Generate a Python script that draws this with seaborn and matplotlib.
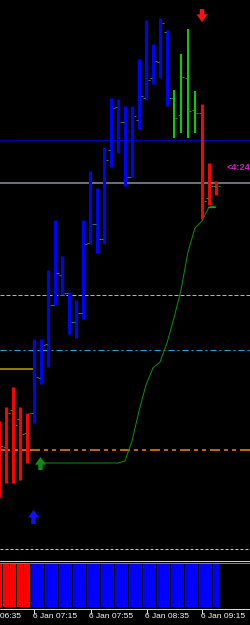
import matplotlib
matplotlib.use("Agg")
import matplotlib.pyplot as plt
from matplotlib.lines import Line2D
import numpy as np
import pandas as pd
import seaborn as sns

# ---------------- data (screen-price units, larger = lower on chart) -------------
bar_idx = list(range(32))
highs = [421, 407, 387, 407, 413, 339, 339, 270, 220, 256, 292, 300, 220, 171, 188, 147,
         98, 99, 106, 106, 59, 20, 44, 18, 30, 90, 54, 29, 91, 104, 163, 181]
lows = [497, 483, 483, 480, 463, 423, 384, 367, 305, 295, 334, 338, 319, 244, 253, 244,
        167, 153, 186, 177, 129, 100, 84, 78, 106, 138, 133, 138, 133, 219, 205, 195]
opens = [430, 446, 409, 418, 432, 412, 377, 343, 304, 274, 292, 321, 312, 242, 223, 238,
         149, 106, 121, 176, 119, 97, 77, 61, 31, 97, 114, 77, 109, 112, 197, 185]
closes = [445, 412, 424, 433, 412, 376, 344, 304, 272, 292, 321, 312, 243, 223, 238, 159,
          107, 121, 176, 115, 95, 79, 60, 22, 97, 117, 76, 110, 112, 200, 185, 185]
bar_state = ["red"] * 5 + ["blue"] * 20 + ["green"] * 4 + ["red"] * 3
hist_state = ["red"] * 5 + ["blue"] * 27

ma_idx = [6, 7, 8, 9, 10, 11, 12, 13, 14, 15, 16, 17, 18, 19, 20, 21, 22, 23, 24, 25,
          26, 27, 28, 29, 30, 31]
ma_vals = [463, 463, 463, 463, 463, 463, 463, 463, 463, 463, 463, 463, 461, 441, 411, 385,
           368, 362, 343, 318, 290, 252, 228, 221, 207, 206]

tick_idx = [-3, 5, 13, 21, 29]
tick_labels = ["6 Jan 06:35", "6 Jan 07:15", "6 Jan 07:55", "6 Jan 08:35", "6 Jan 09:15"]

hlines = {  # level: (color, width px, dash pattern, half-pixel offset)
    139: ("#0000b4", 1.0, None, 0.5),
    183: ("#6b7078", 2.0, None, 0.0),
    295: ("#b4b4b4", 1.0, (4, 2), 0.0),
    350: ("#1fa3ee", 1.0, (6, 3, 2, 3), 0.0),
    450: ("#c06010", 2.0, (5, 2, 2, 2, 2, 2), 0.0),
    549: ("#c8c8c8", 1.0, (3, 2), 0.0),
}
price_label = "<4:24"

# ---------------- figure -------------
W, H = 251, 625
DPI = 100
PT = 72.0 / DPI  # points per pixel

sns.set_style("dark", {"axes.facecolor": "black", "figure.facecolor": "black"})
plt.rcParams["font.family"] = ["Liberation Sans", "DejaVu Sans"]

fig = plt.figure(figsize=(W / DPI, H / DPI), dpi=DPI, facecolor="black")

def px2x(px):
    return (px + 1) / 7.0

xlim = (px2x(0), px2x(W))

ax = fig.add_axes([0, 1 - 559 / H, 1, 559 / H])
ax.set_facecolor("black")
ax.set_xlim(*xlim)
ax.set_ylim(559, 0)
ax.axis("off")

for lvl, (col, wpx, dash, off) in hlines.items():
    ln = ax.axhline(lvl + off, color=col, lw=wpx * PT, zorder=1)
    if dash is not None:
        ln.set_dashes(dash)

# short yellow line
ax.plot([px2x(0), px2x(34)], [369, 369], color="#b8a800", lw=1.5 * PT, zorder=1)

# OHLC bars
colmap = {"red": "#ff0000", "blue": "#0000ff", "green": "#00d000"}
widthmap = {"red": 3.0, "blue": 3.0, "green": 2.0}
for i in bar_idx:
    st = bar_state[i]
    ax.vlines(i, highs[i], lows[i], color=colmap[st], lw=widthmap[st] * PT, zorder=3)
    hw = widthmap[st] / 2.0 / 7.0
    ax.plot([i - hw - 2 / 7, i - hw], [opens[i] + 0.5, opens[i] + 0.5], color="#1f9a1f",
            lw=1 * PT, zorder=4, solid_capstyle="butt")
    ax.plot([i + hw, i + hw + 2 / 7], [closes[i] + 0.5, closes[i] + 0.5], color="#1f9a1f",
            lw=1 * PT, zorder=4, solid_capstyle="butt")

# moving average line
ma_df = pd.DataFrame({"idx": ma_idx, "ma": ma_vals})
sns.lineplot(data=ma_df, x="idx", y="ma", ax=ax, color="#0c900c", lw=1.0 * PT, zorder=2)
ax.plot([29.86, 30.9], [206.5, 206.5], color="#10a810", lw=1.2 * PT, zorder=4)
ax.set_xlim(*xlim)
ax.set_ylim(559, 0)
ax.axis("off")

# arrows
def arrow(x, y_tail, y_tip, col):
    ax.annotate("", xy=(x, y_tip), xytext=(x, y_tail),
                arrowprops=dict(arrowstyle="simple,head_length=0.55,head_width=0.8,tail_width=0.32",
                                color=col, lw=0, mutation_scale=10, shrinkA=0, shrinkB=0),
                zorder=5)

arrow(29.0, 9, 22, "#ff1010")
arrow(5.93, 470, 457, "#108a10")
arrow(4.93, 524, 510, "#1010ff")

ax.text(px2x(227), 167, price_label, color="#cc22cc", fontsize=6.6, ha="left",
        va="center", fontweight="bold", zorder=6)

# ---------------- sub window -------------
ax2 = fig.add_axes([0, 1 - 608 / H, 1, 46 / H])
ax2.set_facecolor("black")
hist_df = pd.DataFrame({"idx": bar_idx, "v": [1.0] * len(bar_idx), "state": hist_state})
sns.barplot(data=hist_df, x="idx", y="v", hue="state",
            palette={"red": "#ff0000", "blue": "#0000ff"}, native_scale=True,
            width=6 / 7, dodge=False, legend=False, ax=ax2, linewidth=0, saturation=1)
ax2.set_xlim(*xlim)
ax2.set_ylim(-0.02, 1.03)
ax2.axis("off")

def hline_fig(ypx, col, wpx=1.0):
    y = 1 - ypx / H
    fig.add_artist(Line2D([0, 1], [y, y], color=col, lw=wpx * PT, transform=fig.transFigure))

hline_fig(560.5, "#d0d0d0")
hline_fig(562.5, "#808080")
hline_fig(608.5, "#d8d8d8")

for ti, lab in zip(tick_idx, tick_labels):
    xpx = 7 * ti - 1
    xf = (xpx + 0.5) / W
    fig.add_artist(Line2D([xf, xf], [1 - 609 / H, 1 - 613 / H], color="#d8d8d8",
                          lw=1 * PT, transform=fig.transFigure))
    fig.text((xpx - 1) / W, 1 - 617 / H, lab, color="white", fontsize=6.0,
             ha="left", va="center")

fig.savefig("out.png", dpi=DPI, facecolor="black")
